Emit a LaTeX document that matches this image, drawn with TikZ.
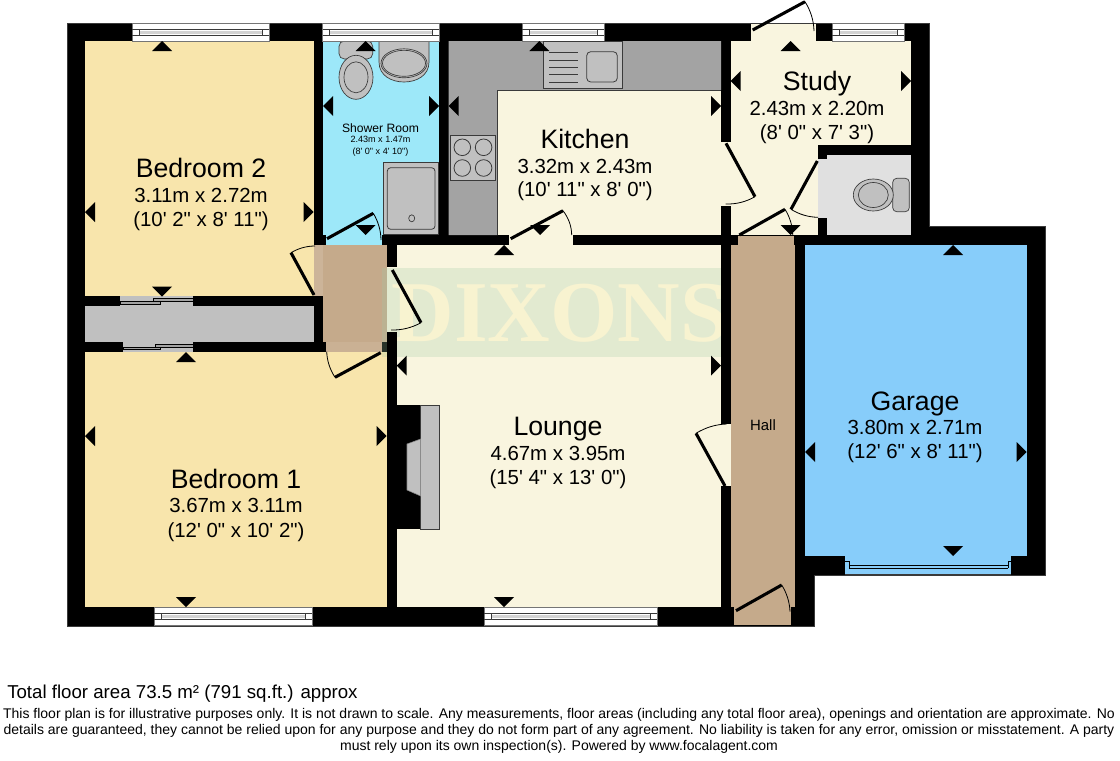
\documentclass[tikz,border=0pt]{standalone}
\usepackage{fontspec}
\usetikzlibrary{calc}
\newfontfamily\lsans{Liberation Sans}
\newfontfamily\lserif{Liberation Serif}
\definecolor{cream}{HTML}{F9F5DF}
\definecolor{bedy}{HTML}{F8E5AC}
\definecolor{tan}{HTML}{C5AA8B}
\definecolor{garage}{HTML}{87CDFA}
\definecolor{shower}{HTML}{9DE8F9}
\definecolor{counter}{HTML}{A3A3A3}
\definecolor{wcfloor}{HTML}{E0E0E0}
\definecolor{fix}{HTML}{C0C0C0}
\definecolor{edge}{HTML}{3A3A3A}
\definecolor{wm}{HTML}{A1CDA7}
\definecolor{wmtext}{HTML}{F8F3D0}
\tikzset{
  doorleaf/.style={line width=2.3pt,black},
  doorswing/.style={line width=.6pt,black},
  fixture/.style={fill=fix,draw=edge,line width=.5pt},
  lbl/.style={font=\lsans,inner sep=0pt,anchor=center,black,text depth=0pt},
  title/.style={lbl,font=\lsans\fontsize{20}{22}\selectfont},
  dims/.style={lbl,font=\lsans\fontsize{15.3}{18}\selectfont},
  note/.style={lbl,font=\lsans\fontsize{10.5}{13}\selectfont},
}
\newcommand\triU[2]{\fill (#1,#2) -- ++(-10,10) -- ++(20,0) -- cycle;}
\newcommand\triD[2]{\fill (#1,#2) -- ++(-10,-10) -- ++(20,0) -- cycle;}
\newcommand\triL[2]{\fill (#1,#2) -- ++(10,-10) -- ++(0,20) -- cycle;}
\newcommand\triR[2]{\fill (#1,#2) -- ++(-10,-10) -- ++(0,20) -- cycle;}
\newcommand\door[6]{%
  \coordinate (dh) at (#1,#2);\coordinate (dt) at (#3,#4);\coordinate (de) at (#5,#6);
  \coordinate (dm) at ($(dt)!.5!(de)$);\coordinate (dc) at ($(dh)!1.072!(dm)$);
  \draw[doorleaf] (dh) -- (dt);
  \draw[doorswing] (dt) .. controls ($(dt)!.667!(dc)$) and ($(de)!.667!(dc)$) .. (de);}
% window: x1, x2, top y
\newcommand\win[3]{%
  \begin{scope}[shift={(#1,#3)}]
    \pgfmathsetmacro\wl{#2-#1}
    \filldraw[fill=white,draw=edge!70,line width=.5pt] (0,0) rectangle (\wl,18.5);
    \fill[fix!70!white] (7,8.3) rectangle ({\wl-7},10.7);
    \draw[edge,line width=.55pt] (0,6.5) -- (\wl,6.5) (0,12.7) -- (\wl,12.7);
    \draw[edge,line width=.55pt] (7,6.5) -- (7,12.7) ({\wl-7},6.5) -- ({\wl-7},12.7);
  \end{scope}}
\begin{document}
\begin{tikzpicture}[x=.75pt,y=-.75pt]
\useasboundingbox (0,0) rectangle (1120,760);
\fill[white] (0,0) rectangle (1120,760);
% walls mass
\filldraw[fill=black,draw=edge,line width=.5pt] (67,23) -- (929,23) -- (929,226) -- (1045,226) -- (1045,575) -- (814,575) -- (814,626) -- (67,626) -- cycle;
% floors
\fill[bedy] (85,41) rectangle (313.5,296);
\fill[bedy] (85,352) rectangle (386.7,607);
\fill[fix] (85,306) rectangle (314,342);
\fill[fix] (120,296) rectangle (193,306);
\fill[fix] (122.7,342) rectangle (193,352);
\fill[tan] (323,245) rectangle (386.7,342);
\fill[tan!88!white] (314,245) rectangle (323,296);
\fill[tan!92!white] (326,342) rectangle (381.7,351.7);
\fill[shower] (323,41) rectangle (439,235);
\fill[shower] (326,235) rectangle (381.7,245);
\fill[cream] (448.7,41) rectangle (721,235);
\fill[cream] (509,235) rectangle (572.7,245);
\fill[cream] (396.7,245) rectangle (721,607);
\fill[cream] (386.7,267) rectangle (396.7,332);
\fill[cream] (721,424) rectangle (731,486);
\fill[cream] (730.7,41) rectangle (911,235);
\fill[cream] (751,24) rectangle (815.7,41);
\fill[cream] (721,141.7) rectangle (731,205.7);
\fill[wcfloor] (827,155) rectangle (911,235);
\fill[wcfloor] (818,159) rectangle (827,218);
\fill[black] (818,145.3) rectangle (911,155);
\fill[black] (818,145.3) rectangle (827,159);
\fill[black] (818,218) rectangle (827,235);
\fill[tan] (731,245) rectangle (795,607);
\fill[tan] (738,236) rectangle (794,245);
\fill[tan] (734,607) rectangle (791,625);
\fill[garage] (805,245) rectangle (1026.7,556);
\fill[garage] (845.3,556) rectangle (1011,574.5);
% kitchen counter
\fill[counter] (448.7,41) -- (721,41) -- (721,90) -- (497.7,90) -- (497.7,235) -- (448.7,235) -- cycle;
\draw[edge,line width=.5pt] (721,90) -- (497.7,90) -- (497.7,235);
% watermark
\fill[wm,opacity=.25] (382,268) rectangle (731,357);
\node[inner sep=0pt,text=wmtext,font=\lserif\bfseries\fontsize{65}{70}\selectfont] (wmark) at (560,313) {DIXONS};
\fill[black] (386.7,245) rectangle (396.7,267);
\fill[black] (386.7,332) rectangle (396.7,405);
\fill[black] (721,245) rectangle (731,424);
% shower room fixtures
\filldraw[fixture,rounded corners=4pt] (339,41) rectangle (372.7,59);
\filldraw[fixture] (356,77.3) ellipse (17 and 22);
\draw[edge,line width=.5pt] (356,77.3) ellipse (12 and 15.5);
\filldraw[fixture] (379,41) -- (379,62) .. controls (379,76) and (392,82) .. (404,82) .. controls (416,82) and (429,76) .. (429,62) -- (429,41) -- cycle;
\draw[edge,line width=.5pt] (404,63.3) ellipse (23 and 14.5);
\draw[edge,line width=.5pt] (404,63.3) ellipse (21.5 and 13);
\filldraw[fill=fix,draw=edge,line width=.7pt] (383.3,162.7) rectangle (438.7,234);
\draw[edge,line width=.6pt,rounded corners=2.5pt] (387.3,167.7) rectangle (435,229.3);
\draw[edge,line width=.5pt] (411.7,218.3) ellipse (3 and 3.5);
% windows
\win{132}{269}{23}
\win{322.7}{439.3}{23}
\win{522}{604}{23}
\win{832}{904.3}{23}
\win{154}{312}{607}
\win{484}{657}{607}
% closet sliding doors
\filldraw[fill=counter,draw=black,line width=.5pt] (120,301.5) rectangle (160,304);
\filldraw[fill=counter,draw=black,line width=.5pt] (153,298.5) rectangle (193,301.5);
\filldraw[fill=counter,draw=black,line width=.5pt] (123,347) rectangle (160,349.5);
\filldraw[fill=counter,draw=black,line width=.5pt] (155,344) rectangle (193,347);
% garage door
\draw[edge,line width=.7pt] (845.3,574.5) -- (1011,574.5);
\draw[black,line width=.6pt] (849,565) -- (1008,565) (849,568.3) -- (1008,568.3);
\draw[black,line width=.5pt] (845.3,561) -- (849,561) -- (849,568.3) (1011,561) -- (1008,561) -- (1008,568.3);
% fireplace
\fill[black] (396,405) rectangle (420.7,529);
\filldraw[fixture] (420.7,405) rectangle (439,529);
\filldraw[fill=fix,draw=edge!60,line width=.4pt] (407,444) -- (420.7,439) -- (420.7,496) -- (407,490) -- cycle;
% hob
\filldraw[fill=fix,draw=edge,line width=.7pt] (450.7,135) rectangle (495.3,180);
\foreach \hx in {462.3,483.6}\foreach \hy in {147.3,168}\draw[edge,line width=.6pt] (\hx,\hy) circle (8.3 and 8.3);
% sink
\filldraw[fill=fix,draw=edge,line width=.5pt] (543.3,41) rectangle (622.7,88.3);
\foreach \ly in {52.7,60,67.3,74.7,82}\draw[edge,line width=.5pt] (549.3,\ly) -- (578.3,\ly);
\draw[edge,line width=.6pt,rounded corners=3pt] (586.7,51.7) rectangle (617.3,82);
% wc
\filldraw[fixture,rounded corners=3pt] (892.7,178.3) rectangle (909.3,211.7);
\filldraw[fixture] (873.3,195) ellipse (20 and 16);
\draw[edge,line width=.5pt] (873.3,195) ellipse (15 and 12.5);
% doors
\door{327}{238.7}{373.3}{213.3}{381}{240}
\door{510.7}{238.7}{563}{210.7}{571.7}{235}
\door{752.7}{30}{805}{1.7}{814}{31}
\door{726}{143.3}{755}{196.7}{725.7}{204}
\door{817.3}{161}{791}{209.3}{818}{217.3}
\door{739.3}{235}{785}{209.3}{792.7}{235}
\door{314}{295}{291}{252.7}{315}{246}
\door{392.3}{270}{421}{322.7}{391}{330}
\door{380.7}{352.7}{335}{377.3}{326.7}{351.7}
\door{725}{486}{696}{433.3}{726.7}{424}
\door{736}{610.7}{781.7}{585}{790}{611.7}
% direction marks
\triU{162}{41}\triL{85}{212}\triR{313.5}{212}\triD{162}{296.7}
\triU{186}{352}\triD{186}{607}\triL{85}{436}\triR{386.7}{436}
\triU{365.7}{41}\triL{323}{106}\triR{439}{106}\triD{365.7}{235}
\triL{448.7}{106}\triU{539.3}{41}\triD{540}{235}\triR{721}{106}
\triU{790.7}{41}\triL{730.7}{81}\triR{911}{81}\triD{790.7}{235}
\triU{504}{245}\triD{504}{607}\triL{396.7}{365.7}\triR{721}{365.7}
\triU{953}{245}\triD{953}{556}\triL{805}{452}\triR{1026.7}{452}
% labels
\node[title] (t1) at (201,168) {Bedroom 2};
\node[dims] (d1) at (201,195) {3.11m x 2.72m};
\node[dims] (f1) at (201,219) {(10' 2" x 8' 11")};
\node[title] (t2) at (236,479) {Bedroom 1};
\node[dims] (d2) at (236,505) {3.67m x 3.11m};
\node[dims] (f2) at (236,530) {(12' 0" x 10' 2")};
\node[title] (t3) at (558,426) {Lounge};
\node[dims] (d3) at (558,453) {4.67m x 3.95m};
\node[dims] (f3) at (558,477) {(15' 4" x 13' 0")};
\node[title] (t4) at (585,139) {Kitchen};
\node[dims] (d4) at (585,166) {3.32m x 2.43m};
\node[dims] (f4) at (585,189.5) {(10' 11" x 8' 0")};
\node[title] (t5) at (817,80.5) {Study};
\node[dims] (d5) at (817,108) {2.43m x 2.20m};
\node[dims] (f5) at (817,132) {(8' 0" x 7' 3")};
\node[title] (t6) at (915,401) {Garage};
\node[dims] (d6) at (915,427) {3.80m x 2.71m};
\node[dims] (f6) at (915,451) {(12' 6" x 8' 11")};
\node[lbl,font=\lsans\fontsize{9.1}{11}\selectfont] (t7) at (380.5,128) {Shower Room};
\node[lbl,font=\lsans\fontsize{6.8}{8}\selectfont] (d7) at (380.5,139) {2.43m x 1.47m};
\node[lbl,font=\lsans\fontsize{6.8}{8}\selectfont] (f7) at (380.5,151) {(8' 0" x 4' 10")};
\node[lbl,font=\lsans\fontsize{11.2}{13}\selectfont] (t8) at (763,425) {Hall};
% footer
\node[lbl,anchor=west,font=\lsans\fontsize{14}{16}\selectfont] (total) at (7,692) {Total floor area 73.5 m² (791 sq.ft.) approx};
\node[note] (n1) at (559,713) {This floor plan is for illustrative purposes only. It is not drawn to scale. Any measurements, floor areas (including any total floor area), openings and orientation are approximate. No};
\node[note] (n2) at (559,729) {details are guaranteed, they cannot be relied upon for any purpose and they do not form part of any agreement. No liability is taken for any error, omission or misstatement. A party};
\node[note] (n3) at (559,745) {must rely upon its own inspection(s). Powered by www.focalagent.com};
\end{tikzpicture}
\end{document}
